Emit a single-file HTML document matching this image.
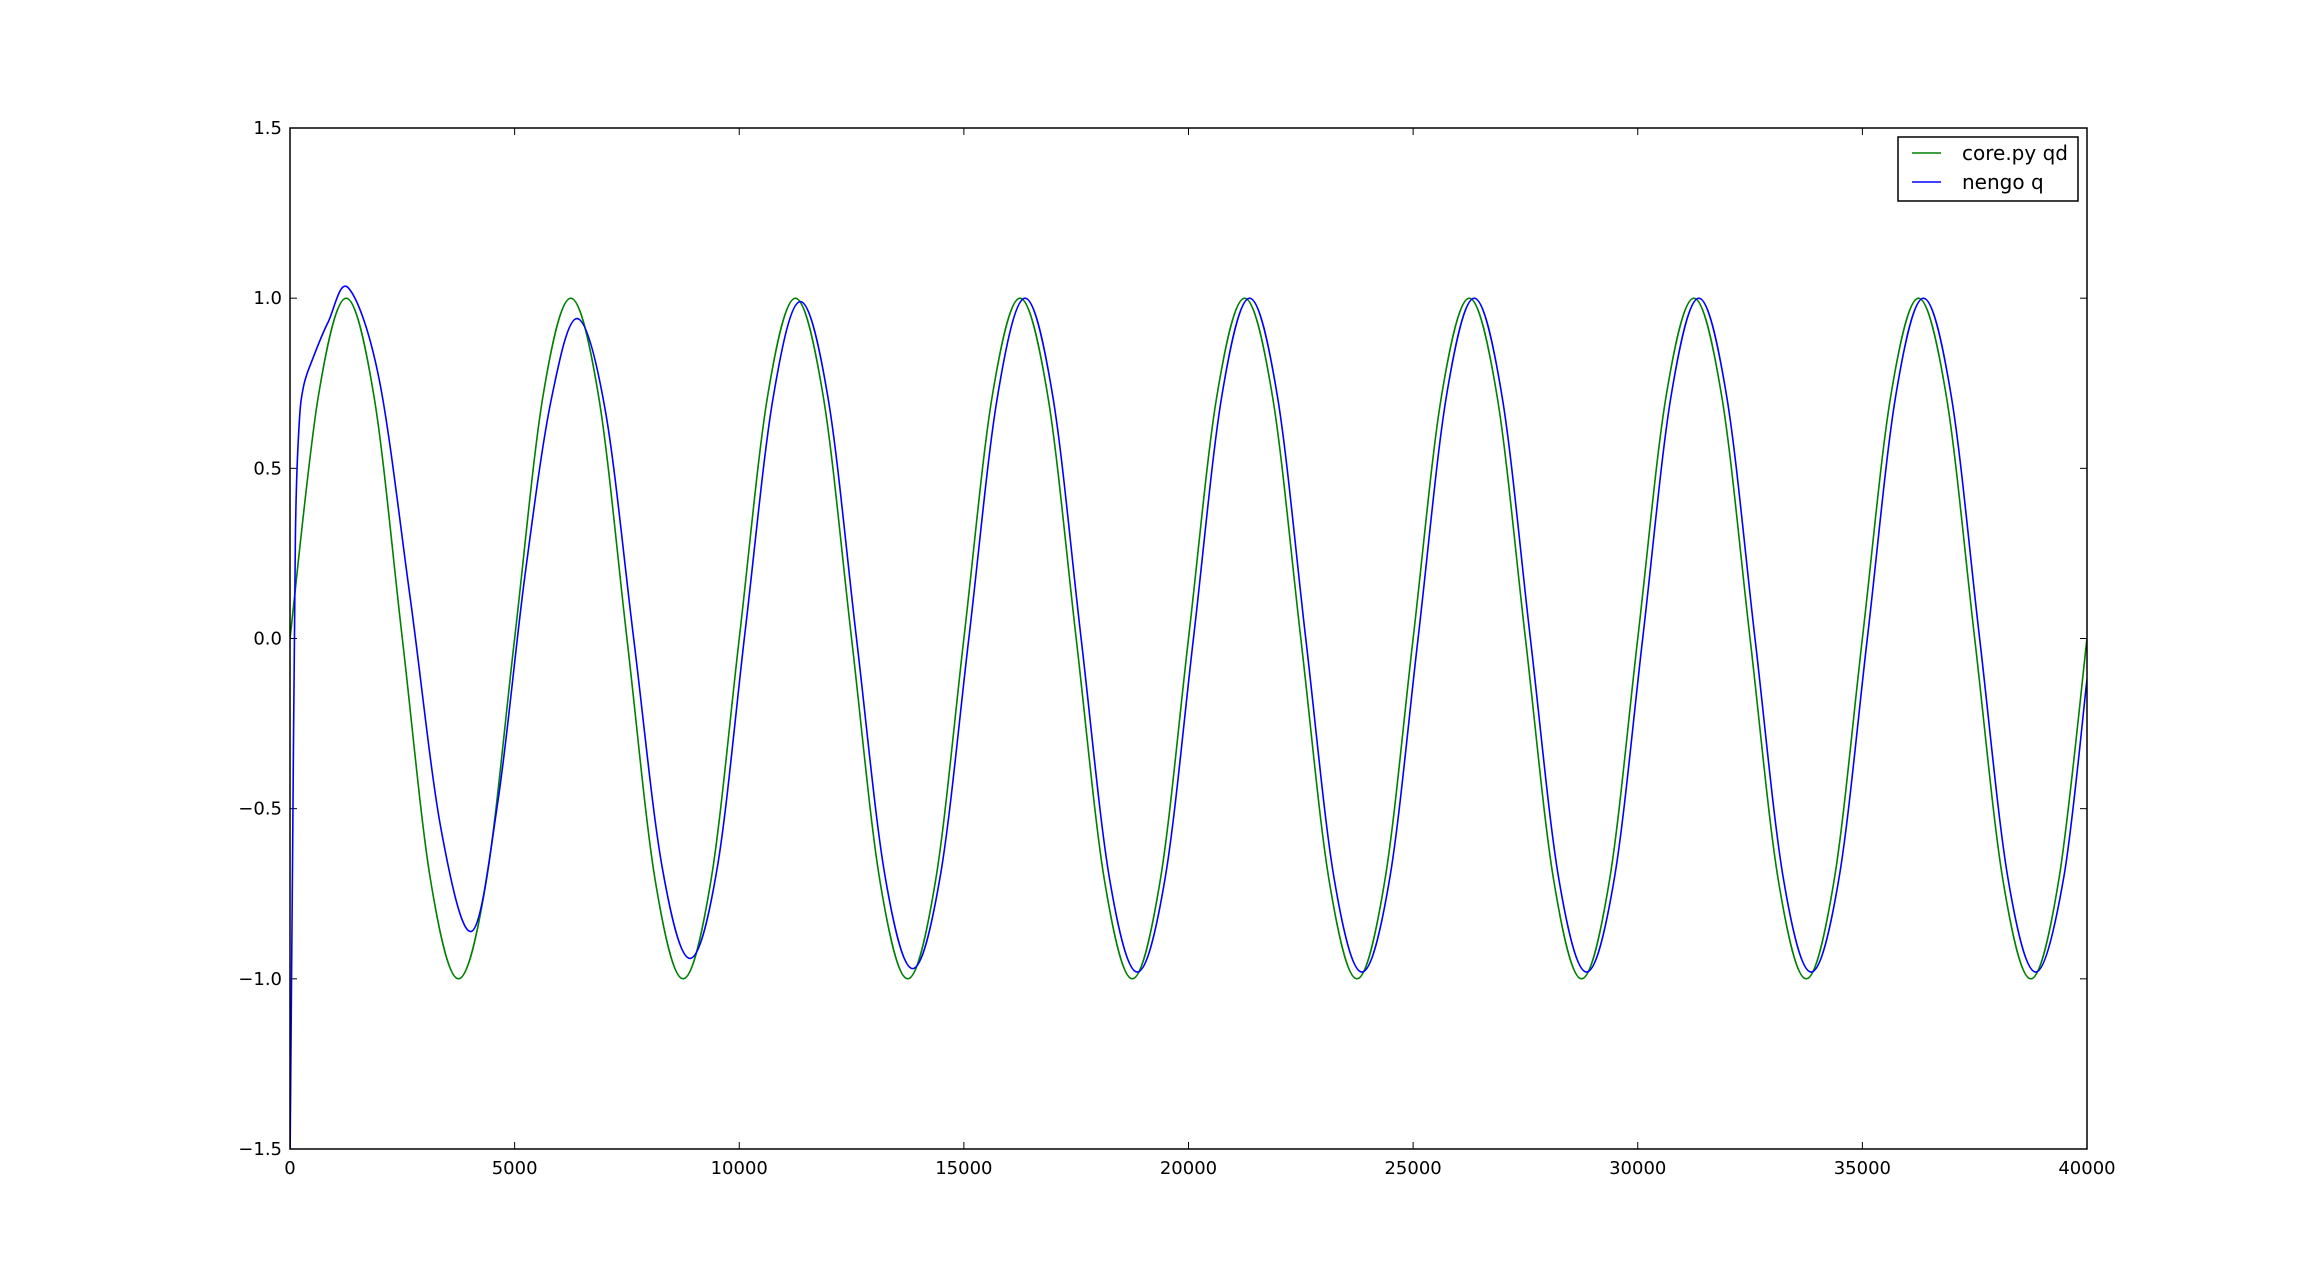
<!DOCTYPE html>
<html><head><meta charset="utf-8"><style>
html,body{margin:0;padding:0;background:#fff;width:2318px;height:1277px;overflow:hidden;}
svg{display:block;font-family:"DejaVu Sans","Liberation Sans",sans-serif;}
</style></head><body>
<svg id="chart" width="2318" height="1277" viewBox="0 0 2318 1277">
<defs><clipPath id="clip"><rect x="290" y="128" width="1797" height="1021"/></clipPath></defs>
<rect x="0" y="0" width="2318" height="1277" fill="#fff"/>
<g id="ticks"></g>
<g id="series" clip-path="url(#clip)"></g>
<rect x="290" y="128" width="1797" height="1021" fill="none" stroke="#000" stroke-width="1.5"/>
<g>
<rect x="1898" y="137" width="180" height="64" fill="#fff" stroke="#000" stroke-width="1.5"/>
<line x1="1912" y1="153" x2="1941" y2="153" stroke="#008000" stroke-width="1.5"/>
<text x="1962" y="160" font-size="20">core.py qd</text>
<line x1="1912" y1="182" x2="1941" y2="182" stroke="#0000ff" stroke-width="1.5"/>
<text x="1962" y="189" font-size="20">nengo q</text>
</g>
</svg>
<script>
const xTicks=[0,5000,10000,15000,20000,25000,30000,35000,40000];
const xTickLabels=["0","5000","10000","15000","20000","25000","30000","35000","40000"];
const yTicks=[-1.5,-1.0,-0.5,0.0,0.5,1.0,1.5];
const yTickLabels=["\u22121.5","\u22121.0","\u22120.5","0.0","0.5","1.0","1.5"];
const greenX=[];
for(let i=0;i<=64;i++)greenX.push(i*625);
const greenY=[0,.707,1,.707,0,-.707,-1,-.707,0,.707,1,.707,0,-.707,-1,-.707,0,.707,1,.707,0,-.707,-1,-.707,0,.707,1,.707,0,-.707,-1,-.707,0,.707,1,.707,0,-.707,-1,-.707,0,.707,1,.707,0,-.707,-1,-.707,0,.707,1,.707,0,-.707,-1,-.707,0,.707,1,.707,0,-.707,-1,-.707,0];
const blueX=[0,60,120,200,300,500,850,1300,1987,2675,3362,4050,4637,5225,5812,6400,7025,7650,8275,8900,9515,10130,10745,11360,11985,12610,13235,13860,14485,15110,15735,16360,16985,17610,18235,18860,19485,20110,20735,21360,21985,22610,23235,23860,24485,25110,25735,26360,26985,27610,28235,28860,29485,30110,30735,31360,31985,32610,33235,33860,34485,35110,35735,36360,36985,37610,38235,38860,39485,40000];
const blueY=[-1.55,-0.6,0.3,0.62,0.74,0.82,0.93,1.03,0.76,0.12,-0.56,-0.86,-0.47,0.18,0.7,0.94,0.665,0,-0.665,-0.94,-0.67,0.02,0.7,0.99,0.7,0,-0.69,-0.97,-0.69,0,0.7,1.0,0.707,0,-0.7,-0.98,-0.7,0,0.707,1.0,0.707,0,-0.7,-0.98,-0.7,0,0.707,1.0,0.707,0,-0.7,-0.98,-0.7,0,0.707,1.0,0.707,0,-0.7,-0.98,-0.7,0,0.707,1.0,0.707,0,-0.7,-0.98,-0.7,-0.12];
const X0=290,X1=2087,Y0=1149,Y1=128;
function sx(v){return X0+(v-0)/(40000-0)*(X1-X0);}
function sy(v){return Y0+(v+1.5)/3*(Y1-Y0);}
const NS="http://www.w3.org/2000/svg";
function mk(tag,attrs){const e=document.createElementNS(NS,tag);for(const k in attrs)e.setAttribute(k,attrs[k]);return e;}
const tg=document.getElementById('ticks');
xTicks.forEach((t,i)=>{
  const x=sx(t);
  const a=mk('line',{x1:x,y1:Y0,x2:x,y2:Y0-7,stroke:'#000','stroke-width':1});
  
  
  tg.appendChild(a);
  const b=mk('line',{x1:x,y1:Y1,x2:x,y2:Y1+7,stroke:'#000','stroke-width':1});
  
  
  tg.appendChild(b);
  const tx=mk('text',{x:x,y:Y0+25,'font-size':18,'text-anchor':'middle'});
  tx.textContent=xTickLabels[i];
  
  
  tg.appendChild(tx);
});
yTicks.forEach((t,i)=>{
  const y=sy(t);
  const a=mk('line',{x1:X0,y1:y,x2:X0+7,y2:y,stroke:'#000','stroke-width':1});
  
  
  tg.appendChild(a);
  const b=mk('line',{x1:X1,y1:y,x2:X1-7,y2:y,stroke:'#000','stroke-width':1});
  
  
  tg.appendChild(b);
  const tx=mk('text',{x:X0-8,y:y+6,'font-size':18,'text-anchor':'end'});
  tx.textContent=yTickLabels[i];
  
  
  tg.appendChild(tx);
});
function smoothPath(xs,ys){
  const p=xs.map((x,i)=>[sx(x),sy(ys[i])]);
  let d='M'+p[0][0]+','+p[0][1];
  for(let i=0;i<p.length-1;i++){
    const p0=p[Math.max(0,i-1)],p1=p[i],p2=p[i+1],p3=p[Math.min(p.length-1,i+2)];
    const c1=[p1[0]+(p2[0]-p0[0])/6,p1[1]+(p2[1]-p0[1])/6];
    const c2=[p2[0]-(p3[0]-p1[0])/6,p2[1]-(p3[1]-p1[1])/6];
    d+=' C'+c1[0]+','+c1[1]+' '+c2[0]+','+c2[1]+' '+p2[0]+','+p2[1];
  }
  return d;
}
const sg=document.getElementById('series');
const g=mk('path',{d:smoothPath(greenX,greenY),fill:'none',stroke:'#008000','stroke-width':1.6});


sg.appendChild(g);
const bl=mk('path',{d:smoothPath(blueX,blueY),fill:'none',stroke:'#0000ff','stroke-width':1.6});


sg.appendChild(bl);
</script>
</body></html>
